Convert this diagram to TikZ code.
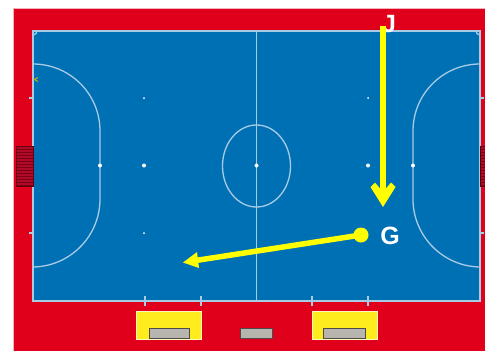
\documentclass[tikz,border=0pt]{standalone}
\usepackage{fontspec}
\setmainfont{Liberation Sans}
\definecolor{courtred}{HTML}{E0001B}
\definecolor{courtblue}{HTML}{0070B5}
\definecolor{courtline}{HTML}{A9CBE4}
\definecolor{markyellow}{HTML}{FFFF00}
\definecolor{boxyellow}{HTML}{FFEC1F}
\definecolor{benchgrey}{HTML}{B8B4AE}
\definecolor{goalred}{HTML}{B00A28}
\tikzset{
  courtmark/.style={draw=courtline,line width=1.3pt},
  spotmark/.style={fill=white,draw=none,circle,inner sep=0pt,minimum size=#1},
  benchbox/.style={draw=black!70,fill=benchgrey,line width=1pt,inner sep=0pt},
  zonebox/.style={draw=white!70!boxyellow,fill=boxyellow,line width=.7pt,inner sep=0pt},
  moveline/.style={draw=markyellow,line width=#1},
  playerlabel/.style={text=white,font=\fontsize{25}{25}\selectfont\bfseries,inner sep=0pt},
  goalnet/.style={draw=black!45!courtred,line width=.3pt},
}
\begin{document}
\begin{tikzpicture}[x=1pt,y=-1pt]
\useasboundingbox (0,0) rectangle (485,351);
% surround
\fill[courtred] (13,8) rectangle (485,351);
\draw[white!70!courtred,line width=.8pt] (13,351) -- (13,8) -- (485,8);
% court
\fill[courtblue] (33,31) rectangle (480,301);
\draw[courtmark] (33,31) rectangle (480,301);
\draw[courtmark] (256.5,31) -- (256.5,301);
\draw[courtmark] (256.5,166) ellipse [x radius=34,y radius=41];
% penalty areas
\draw[courtmark] (33,64) arc[start angle=-90,end angle=0,radius=67] -- (100,199)
  arc[start angle=0,end angle=90,radius=68];
\draw[courtmark] (480,64) arc[start angle=-90,end angle=-180,radius=67] -- (413,199)
  arc[start angle=180,end angle=90,radius=68];
% corners
\draw[courtmark] (33,35) arc[start angle=90,end angle=0,radius=4];
\draw[courtmark] (480,35) arc[start angle=90,end angle=180,radius=4];
% spots
\node[spotmark=4pt] (sc) at (256.5,165.5) {};
\node[spotmark=4pt] (s1) at (144,165.5) {};
\node[spotmark=4pt] (s2) at (368,165.5) {};
\node[spotmark=4pt] (s3) at (100,165.5) {};
\node[spotmark=4pt] (s4) at (413,165.5) {};
\node[spotmark=2pt] (s5) at (144,98) {};
\node[spotmark=2pt] (s6) at (144,233) {};
\node[spotmark=2pt] (s7) at (368,98) {};
% ticks
\foreach \tx in {145,201,312,368} \draw[courtmark] (\tx,296) -- (\tx,306);
\foreach \ty in {98,233} {
  \draw[courtmark] (29,\ty) -- (33,\ty);
  \draw[courtmark] (480,\ty) -- (484,\ty);
}
% small corner sign
\draw[draw=olive!60!yellow,line width=1pt] (38,77.5) -- (34.5,79.5) -- (38,81.5);
% goals
\fill[goalred] (16,146) rectangle (33,186);
\foreach \ny in {149,152,...,185} {
  \draw[goalnet] (16,\ny) -- (33,\ny);
  \draw[goalnet] (480,\ny) -- (485,\ny);
}
\draw[black!55!courtred,line width=.9pt] (16,146) rectangle (33,186);
\fill[goalred] (480,146) rectangle (485,186);
\foreach \ny in {149,152,...,185} \draw[goalnet] (480,\ny) -- (485,\ny);
\draw[black!55!courtred,line width=.9pt] (485,146) -- (480,146) -- (480,186) -- (485,186);
% zones and benches
\node[zonebox,minimum width=65pt,minimum height=28pt] (zl) at (168.5,325) {};
\node[zonebox,minimum width=65pt,minimum height=28pt] (zr) at (344.5,325) {};
\node[benchbox,minimum width=40pt,minimum height=10pt] (bl) at (169.5,333.5) {};
\node[benchbox,minimum width=32pt,minimum height=10pt] (bc) at (256.5,333.5) {};
\node[benchbox,minimum width=42pt,minimum height=10pt] (br) at (344.5,333.5) {};
% players and moves
\node[playerlabel,anchor=base] (J) at (389,32) {J};
\node[playerlabel,anchor=base] (G) at (390,244) {G};
\node[circle,fill=markyellow,inner sep=0pt,minimum size=15pt] (gdot) at (361,235) {};
\coordinate (jstart) at (383,26);
\coordinate (jend) at (383,198);
\coordinate (jtip) at (383,207);
\coordinate (gtip) at (183,262.5);
\coordinate (gneck) at (197,260.3);
\draw[moveline=5.5pt] (jstart) -- (jend);
\fill[markyellow] (jtip) -- (370.5,187) -- (375,182.5) -- (383,192) -- (391,182.5) -- (395.5,187) -- cycle;
\draw[moveline=5.5pt] (gdot.center) -- (gneck);
\fill[markyellow] (gtip) -- (197,252) -- (199,268) -- cycle;
\end{tikzpicture}
\end{document}
